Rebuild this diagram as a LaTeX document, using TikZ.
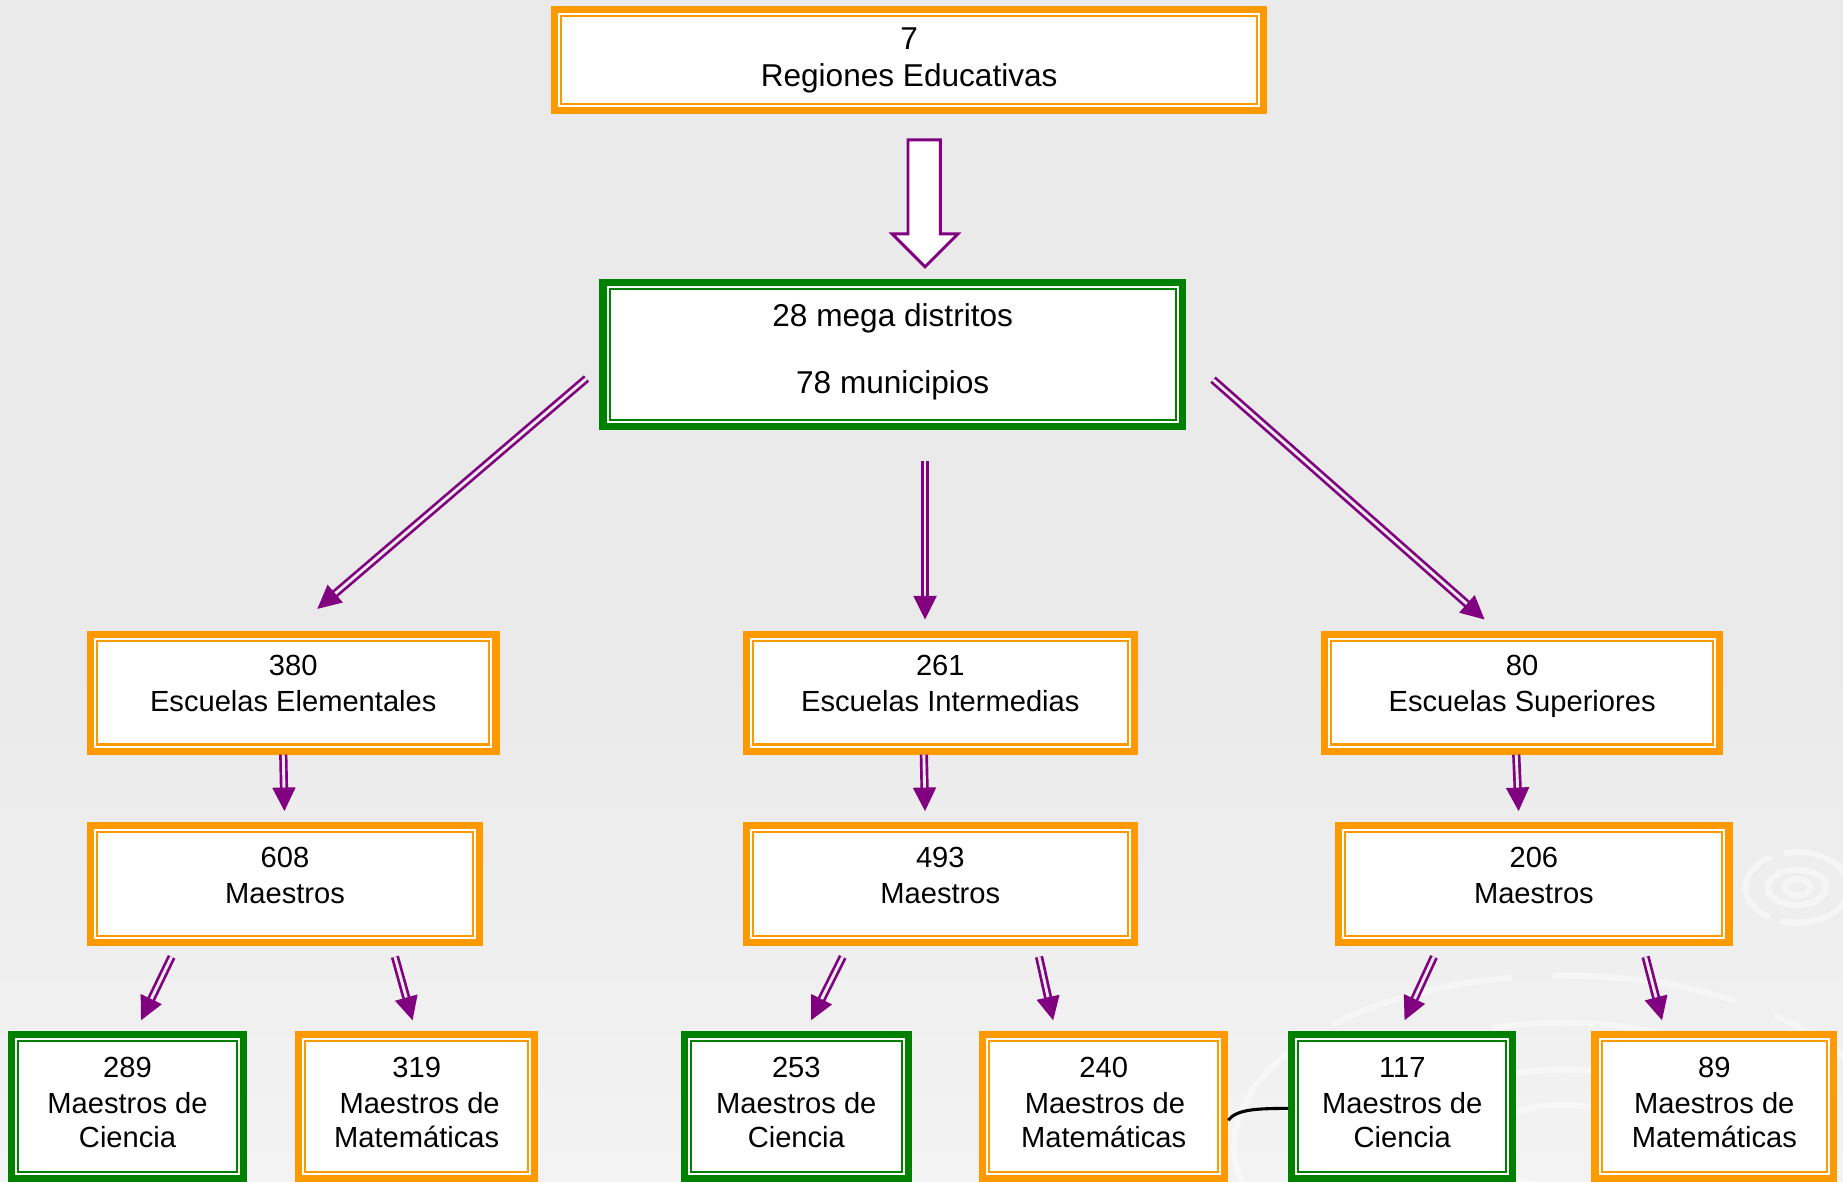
\documentclass[tikz,border=0pt]{standalone}
\usepackage{fontspec}
\setmainfont{Liberation Sans}
\usetikzlibrary{arrows.meta,calc}
\definecolor{borange}{HTML}{FF9900}
\definecolor{bgreen}{HTML}{008000}
\definecolor{bpurple}{HTML}{800080}
\definecolor{bgtop}{HTML}{EAEAEA}
\definecolor{bgbot}{HTML}{F3F3F3}
\tikzset{
  oframe/.style={rectangle, inner sep=0pt, fill=white, draw=borange, line width=0.12cm,
    path picture={\draw[borange, line width=0.035cm]
      ([shift={(0.1125cm,0.1125cm)}]path picture bounding box.south west) rectangle
      ([shift={(-0.1125cm,-0.1125cm)}]path picture bounding box.north east);}},
  gframe/.style={rectangle, inner sep=0pt, fill=white, draw=bgreen, line width=0.12cm,
    path picture={\draw[bgreen, line width=0.035cm]
      ([shift={(0.1125cm,0.1125cm)}]path picture bounding box.south west) rectangle
      ([shift={(-0.1125cm,-0.1125cm)}]path picture bounding box.north east);}},
  sz/.style 2 args={minimum width={#1*0.02cm-0.12cm}, minimum height={#2*0.02cm-0.12cm}},
  bigtxt/.style={anchor=base, inner sep=0pt, font=\fontsize{15.3pt}{17.6pt}\selectfont},
  txt/.style={anchor=base, inner sep=0pt, font=\fontsize{14.1pt}{17pt}\selectfont},
  shaft/.style={draw=bpurple, line width=1.3pt, double=bgtop, double distance=1.4pt},
  swirl/.style={draw=white, line width=3pt, opacity=0.45},
}
\newcommand{\purplearrow}[2]{%
  \draw[shaft, shorten >=0.3cm] (#1) -- (#2);
  \fill[bpurple] (#2) -- ($(#2)!0.4cm!(#1)!0.2cm!90:(#1)$) -- ($(#2)!0.4cm!(#1)!0.2cm!-90:(#1)$) -- cycle;
}
\begin{document}
\begin{tikzpicture}[x=0.02cm,y=-0.02cm]
\useasboundingbox (0,0) rectangle (1568,1005);
% background
\fill[bgtop] (0,0) rectangle (1568,560);
\shade[top color=bgtop, bottom color=bgbot] (0,559) rectangle (1568,1005);
% faint swirls
\draw[swirl] (1529,755) ellipse [x radius=0.22cm, y radius=0.14cm];
\draw[swirl] (1529,755) ellipse [x radius=0.5cm, y radius=0.3cm];
\draw[swirl, dash pattern=on 40pt off 6pt] (1529,755) ellipse [x radius=0.88cm, y radius=0.6cm];
\draw[swirl] (1330,975) ellipse [x radius=1.4cm, y radius=0.7cm];
\draw[swirl, dash pattern=on 60pt off 10pt] (1330,975) ellipse [x radius=2.6cm, y radius=1.3cm];
\draw[swirl, dash pattern=on 80pt off 14pt] (1330,975) ellipse [x radius=4.0cm, y radius=2.1cm];
\draw[swirl, dash pattern=on 90pt off 20pt] (1330,975) ellipse [x radius=5.6cm, y radius=2.9cm];

% boxes
\node[oframe, sz={609}{92}] (reg) at (773.5,51) {};
\node[gframe, sz={499}{129}] (md) at (759.5,301.5) {};
\node[oframe, sz={351}{105}] (ee) at (249.5,589.5) {};
\node[oframe, sz={336}{105}] (ei) at (800,589.5) {};
\node[oframe, sz={342}{105}] (es) at (1295,589.5) {};
\node[oframe, sz={337}{106}] (m1) at (242.5,752) {};
\node[oframe, sz={336}{106}] (m2) at (800,752) {};
\node[oframe, sz={338}{106}] (m3) at (1305,752) {};
\node[gframe, sz={203}{129}] (c1) at (108.5,941.5) {};
\node[oframe, sz={207}{129}] (a1) at (354.5,941.5) {};
\node[gframe, sz={197}{129}] (c2) at (677.5,941.5) {};
\node[oframe, sz={212}{129}] (a2) at (939,941.5) {};
\node[gframe, sz={194}{129}] (c3) at (1193,941.5) {};
\node[oframe, sz={209}{129}] (a3) at (1458.5,941.5) {};

% texts
\node[bigtxt] (reg-1) at (773.5,42.5) {7};
\node[bigtxt] (reg-2) at (773.5,73.5) {Regiones Educativas};
\node[bigtxt] (md-1) at (759.5,277.5) {28 mega distritos};
\node[bigtxt] (md-2) at (759.5,334.5) {78 municipios};

\node[txt] (ee-1) at (249.5,575) {380};
\node[txt] (ee-2) at (249.5,605) {Escuelas Elementales};
\node[txt] (ei-1) at (800,575) {261};
\node[txt] (ei-2) at (800,605) {Escuelas Intermedias};
\node[txt] (es-1) at (1295,575) {80};
\node[txt] (es-2) at (1295,605) {Escuelas Superiores};

\node[txt] (m1-1) at (242.5,738) {608};
\node[txt] (m1-2) at (242.5,769) {Maestros};
\node[txt] (m2-1) at (800,738) {493};
\node[txt] (m2-2) at (800,769) {Maestros};
\node[txt] (m3-1) at (1305,738) {206};
\node[txt] (m3-2) at (1305,769) {Maestros};

\node[txt] (c1-1) at (108.5,917) {289};
\node[txt] (c1-2) at (108.5,947) {Maestros de};
\node[txt] (c1-3) at (108.5,976) {Ciencia};
\node[txt] (a1-1) at (354.5,917) {319};
\node[txt] (a1-2) at (357,947) {Maestros de};
\node[txt] (a1-3) at (354.5,976) {Matemáticas};
\node[txt] (c2-1) at (677.5,917) {253};
\node[txt] (c2-2) at (677.5,947) {Maestros de};
\node[txt] (c2-3) at (677.5,976) {Ciencia};
\node[txt] (a2-1) at (939,917) {240};
\node[txt] (a2-2) at (940,947) {Maestros de};
\node[txt] (a2-3) at (939,976) {Matemáticas};
\node[txt] (c3-1) at (1193,917) {117};
\node[txt] (c3-2) at (1193,947) {Maestros de};
\node[txt] (c3-3) at (1193,976) {Ciencia};
\node[txt] (a3-1) at (1458.5,917) {89};
\node[txt] (a3-2) at (1458.5,947) {Maestros de};
\node[txt] (a3-3) at (1458.5,976) {Matemáticas};

% hollow block arrow from regions to mega districts
\draw[bpurple, line width=1.4pt, fill=white, line join=miter]
  (772.5,119) -- (800,119) -- (800,199) -- (815,199) -- (787,227)
  -- (759,199) -- (772.5,199) -- cycle;

% arrow end points
\coordinate (L1s) at (499,322);  \coordinate (L1e) at (270,518);
\coordinate (L2s) at (787,392);  \coordinate (L2e) at (787,527);
\coordinate (L3s) at (1032,323); \coordinate (L3e) at (1263,527);
\coordinate (S1s) at (241,642);  \coordinate (S1e) at (242,690);
\coordinate (S2s) at (786,642);  \coordinate (S2e) at (787,690);
\coordinate (S3s) at (1290,642); \coordinate (S3e) at (1292,690);
\coordinate (D1s) at (146,814);  \coordinate (D1e) at (120,868);
\coordinate (D2s) at (336,814);  \coordinate (D2e) at (351,868);
\coordinate (D3s) at (717,814);  \coordinate (D3e) at (690,868);
\coordinate (D4s) at (884,814);  \coordinate (D4e) at (896,868);
\coordinate (D5s) at (1220,814); \coordinate (D5e) at (1195,868);
\coordinate (D6s) at (1400,814); \coordinate (D6e) at (1414,868);

\purplearrow{L1s}{L1e}
\purplearrow{L2s}{L2e}
\purplearrow{L3s}{L3e}
\purplearrow{S1s}{S1e}
\purplearrow{S2s}{S2e}
\purplearrow{S3s}{S3e}
\purplearrow{D1s}{D1e}
\purplearrow{D2s}{D2e}
\purplearrow{D3s}{D3e}
\purplearrow{D4s}{D4e}
\purplearrow{D5s}{D5e}
\purplearrow{D6s}{D6e}

% stray black curve between 240 and 117 boxes
\coordinate (k1) at (a2.east |- 0,953);
\coordinate (k2) at (c3.west |- 0,943);
\draw[black, line width=1.5pt] (k1) .. controls (1052,944) and (1068,943) .. (k2);
\end{tikzpicture}
\end{document}
